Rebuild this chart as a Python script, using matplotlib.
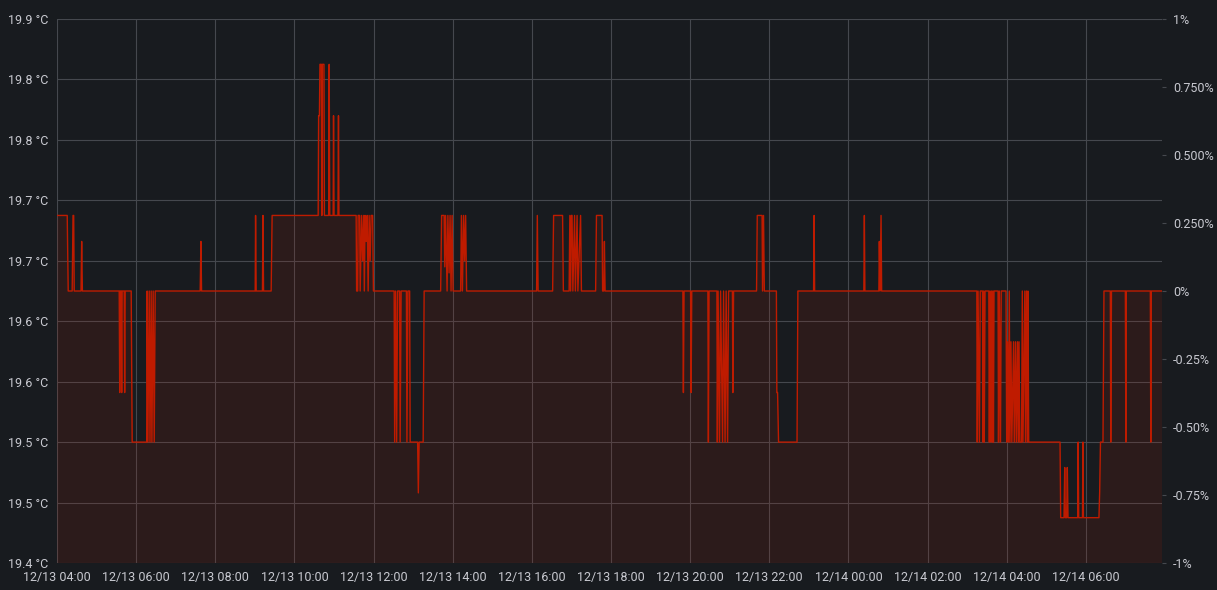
import matplotlib
matplotlib.use("Agg")
import matplotlib.pyplot as plt
import matplotlib.dates as mdates
import pandas as pd

# ---- data ----
start = "2023-12-13 04:00"
end_minutes = 1675.5

minutes = [
    0, 15.5, 17.0, 23.0, 24.3, 25.3, 26.1, 36.4, 37.4, 38.5,
    94.3, 95.1, 95.8, 97.3, 98.1, 98.8, 101.9, 102.6, 103.4, 112.5,
    114.0, 136.0, 136.7, 137.8, 139.8, 141.0, 142.8, 143.9, 145.8, 147.4,
    148.9, 217.1, 218.2, 219.2, 300.5, 301.1, 302.0, 311.5, 312.3, 313.2,
    324.7, 326.2, 396.0, 396.7, 397.9, 398.7, 400.8, 401.6, 402.3, 404.8,
    405.5, 411.9, 412.7, 413.6, 418.7, 419.3, 420.1, 426.0, 426.8, 427.5,
    453.6, 454.3, 455.9, 456.6, 458.9, 459.7, 461.9, 463.4, 465.0, 466.0,
    467.2, 468.8, 470.3, 471.8, 473.3, 474.8, 476.3, 478.6, 479.8,
    511.2, 512.0, 513.5, 515.0, 516.5, 519.5, 520.3, 521.8, 529.8, 530.6,
    532.1, 534.7, 535.5, 546.8, 547.9, 549.1, 555.2, 556.7,
    581.7, 583.2, 587.0, 588.0, 589.2, 591.5, 592.7, 594.5, 596.0, 597.5,
    599.1, 600.6, 612.0, 613.2, 614.7, 616.5, 618.0, 619.6, 621.1,
    727.2, 728.3, 729.5, 751.5, 753.0, 766.6, 767.8, 776.5, 777.6, 778.8,
    779.8, 781.0, 782.2, 784.8, 786.0, 788.6, 789.8, 793.9, 795.2,
    816.7, 818.0, 826.5, 827.3, 829.1, 830.0, 831.1,
    949.0, 949.8, 950.8, 960.7, 961.5, 962.5, 986.9, 987.7, 988.7,
    1000.6, 1001.3, 1002.4, 1004.6, 1006.2, 1009.2, 1010.7, 1013.0, 1014.6, 1016.8,
    1018.3, 1024.1, 1024.8, 1025.9, 1060.7, 1061.8, 1069.1, 1069.8, 1071.3, 1072.5,
    1090.8, 1091.5, 1092.6, 1094.1, 1122.1, 1123.4, 1147.2, 1148.0, 1148.8,
    1223.4, 1224.2, 1225.0, 1246.2, 1246.9, 1248.0, 1249.5, 1250.4,
    1394.7, 1395.4, 1396.6, 1398.6, 1399.9, 1403.4, 1404.2, 1405.1, 1406.0, 1407.2,
    1412.9, 1413.7, 1414.8, 1415.8, 1417.0, 1418.1, 1419.0, 1419.9, 1420.8,
    1426.9, 1427.6, 1428.8, 1430.6, 1431.7, 1439.0, 1440.0, 1441.2, 1442.7, 1443.9,
    1445.0, 1446.5, 1447.8, 1450.4, 1451.5, 1453.4, 1454.6, 1456.4, 1457.6, 1458.7,
    1459.9, 1462.5, 1463.7, 1464.7, 1467.5, 1468.5, 1470.0, 1471.3, 1472.3, 1473.4,
    1520.9, 1521.9, 1526.9, 1528.0, 1529.0, 1530.9, 1531.9, 1533.0,
    1547.7, 1548.4, 1549.2, 1554.9, 1555.6, 1556.4, 1579.9, 1581.0, 1582.2, 1586.0,
    1587.5, 1597.1, 1597.8, 1598.9, 1619.9, 1620.7, 1621.4, 1657.8, 1658.5, 1659.3,
    1675.5,
]

temps_c = [
    19.7375, 19.7375, 19.675, 19.675, 19.7375, 19.7375, 19.675, 19.675, 19.716, 19.675,
    19.675, 19.591, 19.675, 19.675, 19.591, 19.675, 19.675, 19.591, 19.675, 19.675,
    19.55, 19.55, 19.675, 19.55, 19.675, 19.55, 19.675, 19.55, 19.675, 19.55,
    19.675, 19.675, 19.716, 19.675, 19.675, 19.7375, 19.675, 19.675, 19.7375, 19.675,
    19.675, 19.7375, 19.7375, 19.82, 19.82, 19.8625, 19.8625, 19.7375, 19.8625, 19.8625,
    19.7375, 19.7375, 19.8625, 19.7375, 19.7375, 19.82, 19.7375, 19.7375, 19.82, 19.7375,
    19.7375, 19.675, 19.675, 19.7375, 19.7375, 19.675, 19.7375, 19.70, 19.7375, 19.675,
    19.7375, 19.716, 19.7375, 19.675, 19.7375, 19.70, 19.7375, 19.7375, 19.675,
    19.675, 19.55, 19.675, 19.55, 19.675, 19.675, 19.55, 19.675, 19.675, 19.55,
    19.675, 19.675, 19.55, 19.55, 19.508, 19.55, 19.55, 19.675,
    19.675, 19.7375, 19.7375, 19.695, 19.7375, 19.675, 19.7375, 19.69, 19.7375, 19.675,
    19.7375, 19.675, 19.675, 19.7375, 19.675, 19.7375, 19.70, 19.7375, 19.675,
    19.675, 19.7375, 19.675, 19.675, 19.7375, 19.7375, 19.675, 19.675, 19.7375, 19.675,
    19.7375, 19.7375, 19.675, 19.7375, 19.675, 19.7375, 19.675, 19.7375, 19.675,
    19.675, 19.7375, 19.7375, 19.675, 19.675, 19.716, 19.675,
    19.675, 19.591, 19.675, 19.675, 19.591, 19.675, 19.675, 19.55, 19.675,
    19.675, 19.55, 19.675, 19.55, 19.675, 19.55, 19.675, 19.55, 19.675, 19.55,
    19.675, 19.675, 19.591, 19.675, 19.675, 19.7375, 19.7375, 19.675, 19.7375, 19.675,
    19.675, 19.591, 19.591, 19.55, 19.55, 19.675, 19.675, 19.7375, 19.675,
    19.675, 19.7375, 19.675, 19.675, 19.716, 19.675, 19.7375, 19.675,
    19.675, 19.55, 19.675, 19.55, 19.675, 19.675, 19.55, 19.675, 19.55, 19.675,
    19.675, 19.55, 19.675, 19.55, 19.675, 19.55, 19.675, 19.55, 19.675,
    19.675, 19.55, 19.675, 19.55, 19.675, 19.675, 19.55, 19.633, 19.55, 19.675,
    19.55, 19.633, 19.55, 19.633, 19.55, 19.633, 19.55, 19.633, 19.55, 19.633,
    19.55, 19.55, 19.675, 19.55, 19.675, 19.55, 19.675, 19.55, 19.675, 19.55,
    19.55, 19.4875, 19.4875, 19.529, 19.4875, 19.4875, 19.529, 19.4875,
    19.4875, 19.55, 19.4875, 19.4875, 19.55, 19.4875, 19.4875, 19.509, 19.55, 19.55,
    19.675, 19.675, 19.55, 19.675, 19.675, 19.55, 19.675, 19.675, 19.55, 19.675,
    19.675,
]

y_ticks = [19.45, 19.50, 19.55, 19.60, 19.65, 19.70, 19.75, 19.80, 19.85, 19.90]
y_tick_labels = ["19.4 °C", "19.5 °C", "19.5 °C", "19.6 °C", "19.6 °C",
                 "19.7 °C", "19.7 °C", "19.8 °C", "19.8 °C", "19.9 °C"]
pct_ticks = [-1, -0.75, -0.5, -0.25, 0, 0.25, 0.5, 0.75, 1]
pct_labels = ["-1%", "-0.75%", "-0.50%", "-0.25%", "0%",
              "0.250%", "0.500%", "0.750%", "1%"]

# ---- style ----
BG = "#181b1f"
TEXT = "#c8c9d0"
GRID = "#45484e"
LINE = "#BF1B00"
plt.rcParams["font.family"] = ["Roboto", "DejaVu Sans"]

fig = plt.figure(figsize=(12.17, 5.90), dpi=100, facecolor=BG)
W, H = 1217, 590
ax = fig.add_axes([57 / W, 27 / H, 1105 / W, 544 / H])
ax.set_facecolor(BG)

t0 = pd.Timestamp(start)
times = t0 + pd.to_timedelta(minutes, unit="min")

ax.fill_between(times, temps_c, 19.0, color=LINE, alpha=0.12, lw=0, zorder=2)
ax.plot(times, temps_c, color=LINE, lw=1.0, zorder=3)

ax.set_xlim(t0, t0 + pd.Timedelta(minutes=end_minutes))
ax.set_ylim(19.45, 19.90)
ax.set_yticks(y_ticks)
ax.set_yticklabels(y_tick_labels)
ax.xaxis.set_major_locator(mdates.HourLocator(byhour=range(0, 24, 2)))
ax.xaxis.set_major_formatter(mdates.DateFormatter("%m/%d %H:%M"))

ax.grid(True, color=GRID, lw=0.8, zorder=1)
ax.set_axisbelow(True)
for s in ax.spines.values():
    s.set_visible(False)
ax.tick_params(axis="both", length=0, colors=TEXT, labelsize=9)
ax.tick_params(axis="y", pad=6)
ax.tick_params(axis="x", pad=6)

ax2 = ax.twinx()
ax2.set_ylim(-1, 1)
ax2.set_yticks(pct_ticks)
ax2.set_yticklabels(pct_labels)
for s in ax2.spines.values():
    s.set_visible(False)
ax2.tick_params(axis="y", length=3, width=0.8, color=GRID, colors=TEXT,
                labelsize=9, pad=5)
ax2.tick_params(axis="y", color=GRID)

fig.savefig("out.png", dpi=100, facecolor=BG)
